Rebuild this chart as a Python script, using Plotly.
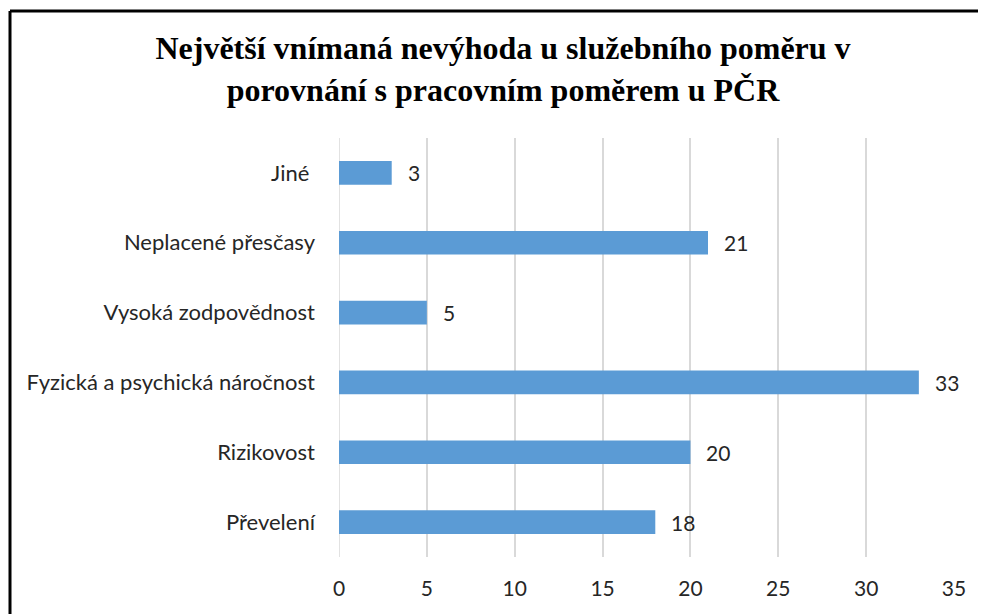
import plotly.graph_objects as go

categories = ["Převelení", "Rizikovost", "Fyzická a psychická náročnost",
              "Vysoká zodpovědnost", "Neplacené přesčasy", "Jiné\u00a0"]
values = [18, 20, 33, 5, 21, 3]
x_ticks = [0, 5, 10, 15, 20, 25, 30, 35]

title_text = ("<b>Největší vnímaná nevýhoda u služebního poměru v<br>"
              "porovnání s pracovním poměrem u PČR</b>")

OFF = 8  # page body margin offset
W, H = 986 - OFF, 614 - OFF
L, R, T, B = 339 - OFF, 32, 138 - OFF, 57
pw, ph = W - L - R, H - T - B

def px(xp):
    return (xp - OFF - L) / pw

def py(yp):
    return (H - B - (yp - OFF)) / ph

fig = go.Figure()
fig.add_trace(go.Bar(
    x=values, y=categories, orientation="h",
    marker=dict(color="#5B9BD5", line=dict(width=0)),
    width=0.34,
    hoverinfo="skip",
))
for v, c in zip(values, categories):
    fig.add_annotation(x=v, y=c, text=str(v), showarrow=False,
                       xanchor="left", xshift=14,
                       font=dict(family="Lato", size=21, color="#262626"))

fig.add_shape(type="line", xref="paper", yref="paper",
              x0=px(10), x1=px(10), y0=py(11), y1=py(650),
              line=dict(color="black", width=3))
fig.add_shape(type="line", xref="paper", yref="paper",
              x0=px(10), x1=px(1010), y0=py(11), y1=py(11),
              line=dict(color="black", width=3))
fig.add_shape(type="line", xref="x", yref="paper", x0=0, x1=0, y0=0, y1=1,
              line=dict(color="#D9D9D9", width=1.5), layer="below")

fig.update_layout(
    width=W, height=H,
    margin=dict(l=L, r=R, t=T, b=B),
    paper_bgcolor="white", plot_bgcolor="white",
    showlegend=False,
    title=dict(text=title_text, x=(503 - OFF) / W, xref="container",
               xanchor="center",
               y=1 - 51 / H, yanchor="middle",
               font=dict(family="Liberation Serif", size=32, color="black")),
    xaxis=dict(range=[0, 35], tickvals=x_ticks, showgrid=True,
               gridcolor="#D9D9D9", gridwidth=1.5, zeroline=False,
               showline=False, ticklabelstandoff=17,
               tickfont=dict(family="Lato", size=21, color="#262626")),
    yaxis=dict(showgrid=False, zeroline=False, showline=False,
               ticklabelstandoff=23,
               tickfont=dict(family="Lato", size=22, color="#262626")),
)

fig.write_html("out.html")
